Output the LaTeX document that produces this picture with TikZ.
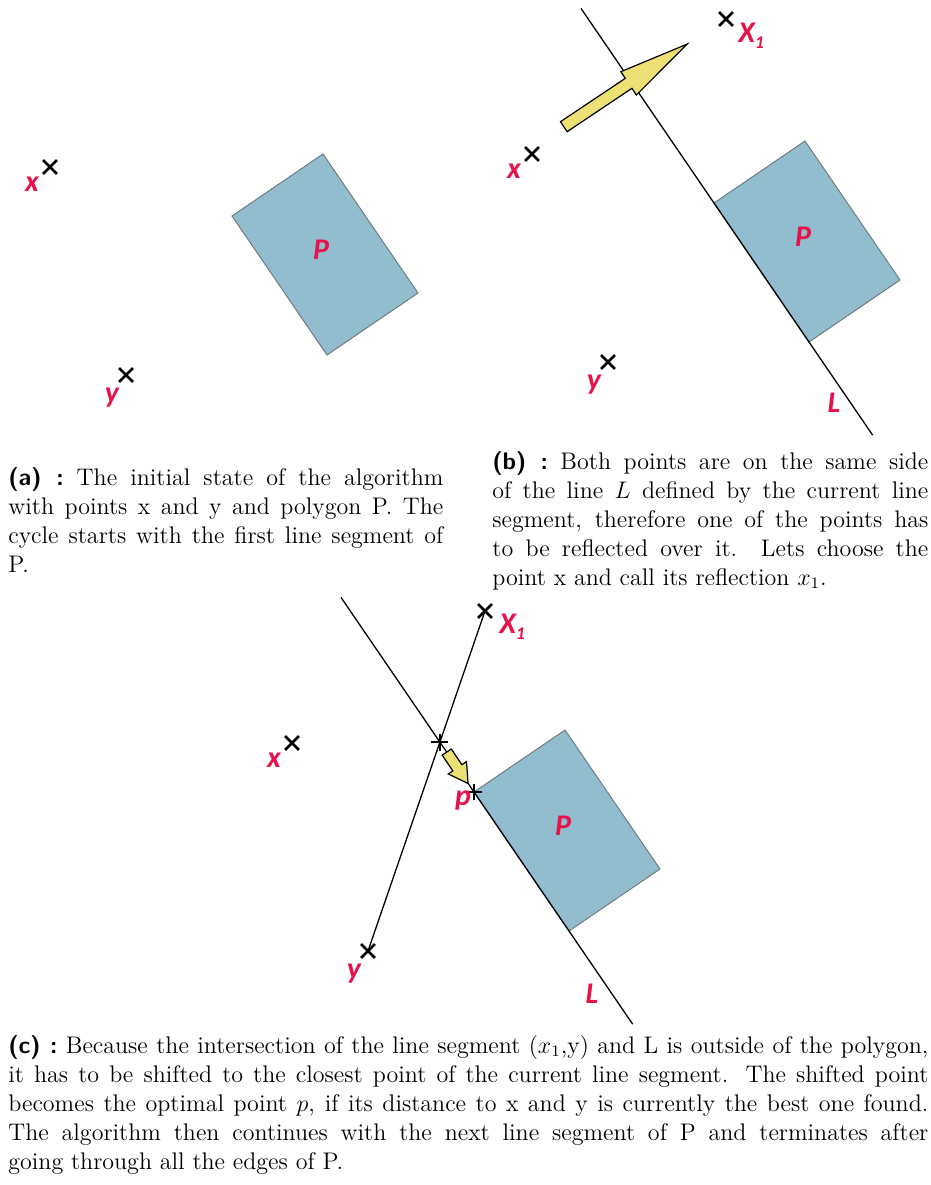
\documentclass[tikz,border=0pt,12pt]{standalone}
\usepackage{fontspec}
\newfontfamily\lblfont{Carlito}
\usetikzlibrary{shapes.misc,calc}

\definecolor{polyblue}{RGB}{145,189,207}
\definecolor{polyedge}{RGB}{112,124,128}
\definecolor{lblred}{RGB}{232,18,74}
\definecolor{arrowyel}{RGB}{237,224,116}

\tikzset{
  pt mark/.style  = {cross out, draw = black, line width = 1.4pt,
                     minimum size = 5.5pt, inner sep = 0pt},
  cut mark/.style = {cross out, draw = black, line width = 1.2pt,
                     minimum size = 4.8pt, inner sep = 0pt, rotate = 45},
  lbl/.style      = {text = lblred, inner sep = 0pt, anchor = base,
                     font = \lblfont\bfseries\itshape\fontsize{15}{15}\selectfont},
  poly/.style     = {fill = polyblue, draw = polyedge, line width = .5pt},
  linel/.style    = {line width = .65pt},
  movearrow/.style = {draw = black, fill = arrowyel, line width = .6pt},
  capt/.style     = {anchor = base west, inner sep = 0pt, align = justify,
                     text width = #1}
}

\begin{document}
\begin{tikzpicture}[x = .5pt, y = -.5pt]
  \useasboundingbox (0,0) rectangle (931,1185);

  % polygon and the two points, once per panel
  \foreach \s/\dx/\dy in {a/0/0, b/482/-13, c/242/576}
    {
      \begin{scope}[shift = {(\dx,\dy)}]
        \coordinate (A\s) at (232,216);
        \coordinate (B\s) at (323,154);
        \coordinate (C\s) at (418,293);
        \coordinate (D\s) at (327,355);
        \draw [poly] (A\s) -- (B\s) -- (C\s) -- (D\s) -- cycle;
        \node [lbl] (P\s) at (321,259) {P};
        \node [pt mark] (x\s) at (50,167) {};
        \node [lbl] (xl\s) at (32,191) {x};
        \node [pt mark] (y\s) at (126,375) {};
        \node [lbl] (yl\s) at (112,402) {y};
      \end{scope}
    }

  % (b): line L, reflection x_1
  \begin{scope}[shift = {(482,-13)}]
    \coordinate (Ltb) at ($(Ab)!-1.4!(Db)$);
    \coordinate (Lbb) at ($(Ab)!1.67!(Db)$);
    \draw [linel] (Ltb) -- (Lbb);
    \node [lbl] (Llb) at (352,425) {L};
    \node [pt mark] (x1b) at (244,32) {};
    \node [lbl, anchor = base west] (x1lb) at (256,55)
      {X\raisebox{-3pt}{\fontsize{9}{9}\selectfont 1}};
    \draw [movearrow, shift = {(81.8,139.7)}, rotate = 33.8]
      (0,-6) -- (78,-6) -- (78,-14) -- (148.6,0) --
      (78,14) -- (78,6) -- (0,6) -- cycle;
  \end{scope}

  % (c): segment (x_1,y), its cut with L and the shifted point p
  \begin{scope}[shift = {(242,576)}]
    \coordinate (Ltc) at ($(Ac)!-1.4!(Dc)$);
    \coordinate (Lbc) at ($(Ac)!1.67!(Dc)$);
    \draw [linel] (Ltc) -- (Lbc);
    \node [lbl] (Llc) at (350,427) {L};
    \node [pt mark] (x1c) at (243,35) {};
    \node [lbl, anchor = base west] (x1lc) at (257,57)
      {X\raisebox{-3pt}{\fontsize{9}{9}\selectfont 1}};
    \draw [linel] (x1c.center) -- (yc.center);
    \coordinate (cut) at (intersection of x1c.center--yc.center and Ac--Dc);
    \draw [movearrow, shift = {($(cut)!.2!(Ac)$)}, rotate = -55.8]
      (0,-5.5) -- (19,-5.5) -- (19,-11) -- (38,0) --
      (19,11) -- (19,5.5) -- (0,5.5) -- cycle;
    \node [cut mark] (cutm) at (cut) {};
    \node [cut mark] (pm) at (Ac) {};
    \node [lbl] (pl) at (221,229) {p};
  \end{scope}

  % captions
  \node [capt = 217.5pt] (capa) at (8,485)
    {\textsf{\textbf{(a) :}}\ The initial state of the algorithm\linebreak
     with points x and y and polygon P. The\linebreak
     cycle starts with the first line segment of\linebreak
     P.};
  \node [capt = 218pt] (capb) at (492,469)
    {\textsf{\textbf{(b) :}}\ Both points are on the same side\linebreak
     of the line $L$ defined by the current line\linebreak
     segment, therefore one of the points has\linebreak
     to be reflected over it. Lets choose the\linebreak
     point x and call its reflection $x_1$.};
  \node [capt = 460pt] (capc) at (8,1053)
    {\textsf{\textbf{(c) :}}\ Because the intersection of the line segment ($x_1$,y) and L is outside of the polygon,\linebreak
     it has to be shifted to the closest point of the current line segment. The shifted point\linebreak
     becomes the optimal point $p$, if its distance to x and y is currently the best one found.\linebreak
     The algorithm then continues with the next line segment of P and terminates after\linebreak
     going through all the edges of P.};
\end{tikzpicture}
\end{document}
